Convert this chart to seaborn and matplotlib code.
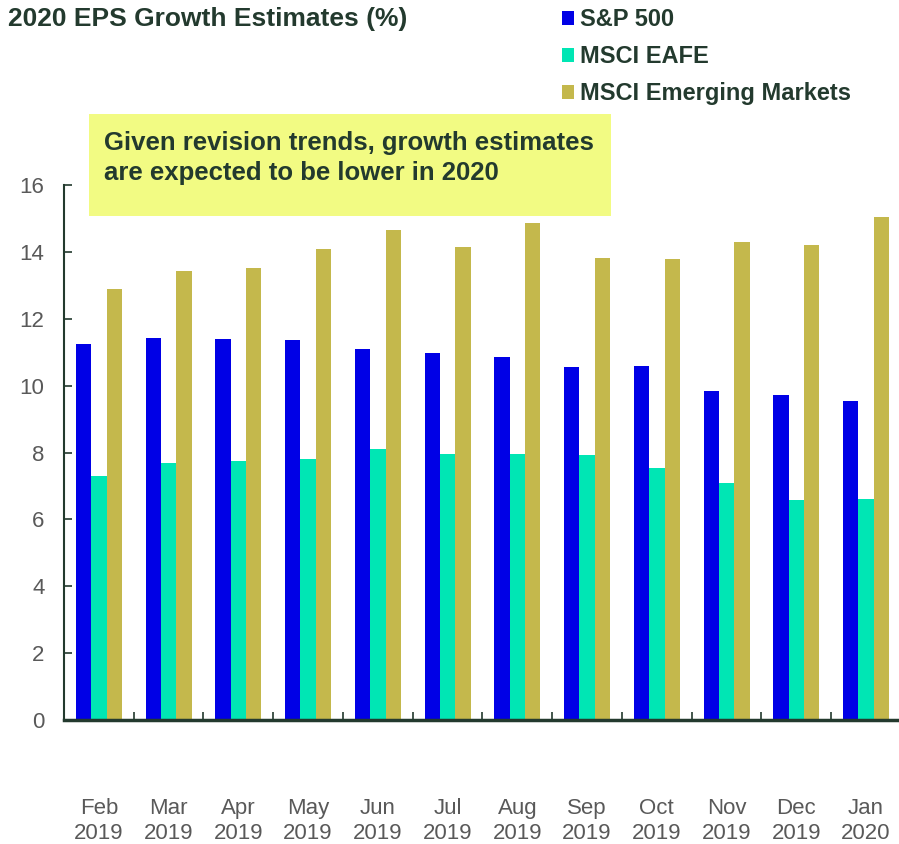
import matplotlib
matplotlib.use("Agg")
import matplotlib.pyplot as plt
import seaborn as sns
import pandas as pd
from matplotlib.ticker import FixedLocator, MultipleLocator

months = ["Feb\n2019", "Mar\n2019", "Apr\n2019", "May\n2019", "Jun\n2019", "Jul\n2019",
          "Aug\n2019", "Sep\n2019", "Oct\n2019", "Nov\n2019", "Dec\n2019", "Jan\n2020"]
sp500 = [11.24, 11.42, 11.39, 11.36, 11.09, 10.97, 10.86, 10.56, 10.59, 9.84, 9.72, 9.54]
eafe = [7.30, 7.69, 7.75, 7.81, 8.10, 7.95, 7.95, 7.92, 7.54, 7.09, 6.58, 6.61]
em = [12.89, 13.43, 13.52, 14.08, 14.65, 14.14, 14.86, 13.82, 13.79, 14.29, 14.20, 15.04]
series = ["S&P 500", "MSCI EAFE", "MSCI Emerging Markets"]
colors = ["#0000E6", "#00E6B4", "#C4B84C"]

df = pd.DataFrame({
    "month": months * 3,
    "value": sp500 + eafe + em,
    "series": [series[0]] * 12 + [series[1]] * 12 + [series[2]] * 12,
})

sns.set_style("white")
plt.rcParams["font.family"] = ["Liberation Sans", "DejaVu Sans"]

dark = "#233A2E"
grey = "#595959"

fig = plt.figure(figsize=(8.99, 8.44), dpi=100)
ax = fig.add_axes([64 / 899, 1 - 720 / 844, (901 - 64) / 899, (720 - 185) / 844])

sns.barplot(data=df, x="month", y="value", hue="series", palette=colors,
            width=0.66, saturation=1, ax=ax, errorbar=None, legend=True,
            linewidth=0)

ax.set_ylim(0, 16)
ax.set_xlim(-0.5, 11.5)
ax.set_xlabel("")
ax.set_ylabel("")
ax.yaxis.set_major_locator(MultipleLocator(2))

# x ticks at group boundaries, labels at centers
ax.xaxis.set_major_locator(FixedLocator([i + 0.5 for i in range(-1, 12)]))
ax.xaxis.set_minor_locator(FixedLocator(list(range(12))))
ax.set_xticklabels([""] * 13)
ax.set_xticklabels(months, minor=True)
ax.tick_params(axis="x", which="major", direction="in", length=6, width=1.2, color=dark, bottom=True)
ax.tick_params(axis="x", which="minor", length=0, pad=56, labelsize=16, labelcolor=grey)
for lbl in ax.get_xticklabels(minor=True):
    lbl.set_linespacing(1.25)
ax.tick_params(axis="y", direction="in", length=6, width=1.2, color=dark, left=True,
               labelsize=16, labelcolor=grey, pad=14)

for s in ["top", "right"]:
    ax.spines[s].set_visible(False)
ax.spines["left"].set_color(dark)
ax.spines["left"].set_linewidth(1.5)
ax.spines["bottom"].set_color(dark)
ax.spines["bottom"].set_linewidth(2.5)
ax.spines["bottom"].set_zorder(5)

sns.move_legend(ax, "upper left", bbox_to_anchor=(562 / 899, 1 - 8 / 844),
                bbox_transform=fig.transFigure, frameon=False, title=None,
                borderpad=0, borderaxespad=0,
                handlelength=0.52, handleheight=0.52, handletextpad=0.25,
                labelspacing=0.6, prop={"size": 17, "weight": "bold"})
for t in ax.get_legend().get_texts():
    t.set_color(dark)

fig.text(8 / 899, 1 - 19 / 844, "2020 EPS Growth Estimates (%)", fontsize=19,
         fontweight="bold", color=dark, va="center", ha="left")

fig.patches.append(plt.Rectangle((89 / 899, 1 - 216 / 844), (611 - 89) / 899, (216 - 114) / 844,
                                 transform=fig.transFigure, facecolor="#F2FB83",
                                 edgecolor="none", zorder=3))
fig.text(104 / 899, 1 - 158 / 844,
         "Given revision trends, growth estimates\nare expected to be lower in 2020",
         fontsize=18.5, fontweight="bold", color=dark, va="center", ha="left",
         linespacing=1.35, zorder=4)

fig.savefig("out.png", dpi=100)
